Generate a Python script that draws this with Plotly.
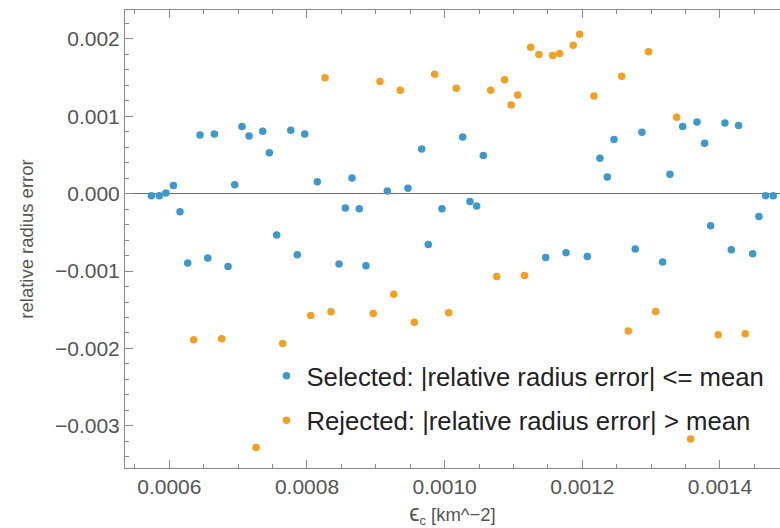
import plotly.graph_objects as go

# Selected points (|relative radius error| <= mean)
sel_x = [0.000574, 0.0005855, 0.000595, 0.000606, 0.0006155, 0.0006267, 0.0006446, 0.0006558,
         0.0006654, 0.0006853, 0.000695, 0.0007056, 0.0007158, 0.0007357, 0.0007453, 0.000756,
         0.0007764, 0.0007859, 0.0007967, 0.000815, 0.0008465, 0.0008557, 0.0008654, 0.000876,
         0.0008857, 0.0009167, 0.0009467, 0.0009666, 0.0009762, 0.0009961, 0.0010262, 0.0010368,
         0.0010465, 0.0010561, 0.0011468, 0.0011763, 0.0012072, 0.0012256, 0.0012363, 0.001246,
         0.0012769, 0.0012866, 0.0013167, 0.0013273, 0.0013458, 0.0013666, 0.0013777, 0.0013864,
         0.0014072, 0.0014164, 0.0014271, 0.0014475, 0.0014566, 0.0014663, 0.0014774]
sel_y = [-0.000026, -0.000026, 0.000009, 0.000107, -0.000233, -0.000896, 0.000759, -0.000832,
         0.000772, -0.00094, 0.000116, 0.000867, 0.000746, 0.000806, 0.00053, -0.000534,
         0.000819, -0.000789, 0.000772, 0.000155, -0.000909, -0.000185, 0.000203, -0.000194,
         -0.000931, 0.000035, 0.000069, 0.000578, -0.000656, -0.000194, 0.000733, -0.0001,
         -0.000159, 0.000495, -0.000824, -0.000763, -0.000811, 0.000457, 0.000216, 0.000699,
         -0.000715, 0.000793, -0.000884, 0.00025, 0.000867, 0.000928, 0.000651, -0.000414,
         0.000915, -0.000724, 0.00088, -0.000776, -0.000294, -0.000026, -0.000026]

# Rejected points (|relative radius error| > mean)
rej_x = [0.0006354, 0.0006761, 0.000726, 0.0007647, 0.0008054, 0.0008262, 0.0008349, 0.0008963,
         0.000906, 0.000926, 0.0009356, 0.0009559, 0.0009855, 0.0010059, 0.0010169, 0.0010669,
         0.0010756, 0.001087, 0.0010967, 0.0011061, 0.001116, 0.001125, 0.001137, 0.001157,
         0.001167, 0.0011868, 0.0011961, 0.0012169, 0.0012571, 0.0012667, 0.0012963, 0.0013065,
         0.001337, 0.0013573, 0.0013974, 0.0014367]
rej_y = [-0.001889, -0.001876, -0.00328, -0.001937, -0.001574, 0.001497, -0.001527, -0.001549,
         0.001449, -0.001298, 0.001336, -0.00166, 0.001543, -0.00154, 0.001362, 0.001336,
         -0.00107, 0.001471, 0.001147, 0.001277, -0.001057, 0.001893, 0.001798, 0.001785,
         0.001811, 0.001918, 0.002061, 0.001264, 0.001517, -0.001776, 0.001833, -0.001523,
         0.000987, -0.00317, -0.001824, -0.001811]

series_names = ["Selected: |relative radius error| <= mean",
                "Rejected: |relative radius error| > mean"]

BLUE = "#3D99CC"
ORANGE = "#F2A024"
FRAME = "#8a8a8a"
FONT = "Liberation Sans, Arial, sans-serif"

fig = go.Figure()
fig.add_trace(go.Scatter(x=sel_x, y=sel_y, mode="markers", name=series_names[0],
                         legendgroup="a",
                         marker=dict(color=BLUE, size=7.5, line=dict(width=0))))
fig.add_trace(go.Scatter(x=rej_x, y=rej_y, mode="markers", name=series_names[1],
                         legendgroup="b",
                         marker=dict(color=ORANGE, size=7.5, line=dict(width=0))))

fig.update_layout(
    width=780, height=528,
    margin=dict(l=125, r=0, t=10, b=60, autoexpand=False),
    paper_bgcolor="white", plot_bgcolor="white",
    font=dict(family=FONT, color="#555555"),
    legend=dict(x=0.216, y=0.252, xanchor="left", yanchor="top",
                bgcolor="rgba(0,0,0,0)", traceorder="grouped", tracegroupgap=8,
                font=dict(size=25.7, color="#222222", family=FONT)),
    xaxis=dict(
        range=[0.0005356, 0.0014872], automargin=False,
        tickmode="linear", tick0=0, dtick=0.0002, tickformat=".4f",
        ticks="inside", ticklen=8, tickcolor=FRAME, tickwidth=1,
        minor=dict(dtick=0.00005, ticks="inside", ticklen=4, tickcolor=FRAME),
        showline=True, linecolor=FRAME, linewidth=1, mirror="ticks",
        showgrid=False, zeroline=False,
        tickfont=dict(size=21, color="#555555"),
        title=dict(text='<span style="font-size:23px">ϵ</span><sub>c</sub> [km^−2]',
                   font=dict(size=18.5, color="#555555"), standoff=20),
    ),
    yaxis=dict(
        range=[-0.003545, 0.002374], automargin=False,
        tickmode="linear", tick0=0, dtick=0.001, tickformat=".3f",
        ticks="inside", ticklen=8, tickcolor=FRAME, tickwidth=1,
        minor=dict(dtick=0.0002, ticks="inside", ticklen=4, tickcolor=FRAME),
        showline=True, linecolor=FRAME, linewidth=1, mirror=False,
        showgrid=False, zeroline=True, zerolinecolor="#707070", zerolinewidth=1,
        tickfont=dict(size=21, color="#555555"),
        title=dict(text="relative radius error", font=dict(size=18.5, color="#555555"), standoff=16),
    ),
)

fig.write_html("out.html", config={"displayModeBar": False},
               post_script="document.body.style.margin='0';document.body.style.overflow='hidden';")
